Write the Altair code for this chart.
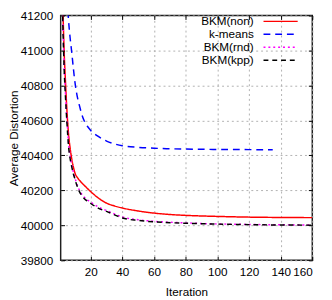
import altair as alt
import pandas as pd

series_names = ["BKM(non)", "k-means", "BKM(rnd)", "BKM(kpp)"]
series_colors = ["#ff0000", "#0000ff", "#ff00ff", "#000000"]
series_dashes = [[1, 0], [7, 5], [2, 3], [5, 4]]

non_x = [1, 2, 3, 4, 5, 6, 7, 8, 9, 10, 12, 14, 16, 18, 20, 25, 30, 35, 40, 50, 60, 70, 80, 100, 120, 140, 160]
non_y = [42200, 41450, 41050, 40830, 40650, 40520, 40440, 40380, 40335, 40300, 40268, 40246, 40228, 40210,
         40193, 40155, 40127, 40111, 40099, 40082, 40070, 40062, 40057, 40051, 40047, 40045, 40044]

km_x = [1, 2, 3, 4, 5, 6, 7, 8, 9, 10, 11, 12, 13, 14, 16, 18, 20, 25, 30, 35, 40, 50, 60, 70, 80, 100, 120, 135]
km_y = [43500, 42600, 42000, 41600, 41320, 41170, 41070, 40990, 40900, 40820, 40760, 40715, 40680, 40645,
        40595, 40565, 40543, 40507, 40482, 40466, 40455, 40446, 40441, 40438, 40436, 40434, 40433, 40432]

rnd_x = [1, 2, 3, 4, 5, 6, 7, 8, 9, 10, 11, 12, 13, 14, 16, 18, 20, 25, 30, 35, 40, 50, 60, 80, 100, 120, 140, 160]
rnd_y = [42350, 41380, 40970, 40760, 40600, 40470, 40395, 40345, 40305, 40272, 40243, 40218, 40198, 40182,
         40160, 40145, 40133, 40104, 40085, 40065, 40048, 40032, 40023, 40014, 40008, 40005, 40003, 40002]

kpp_x = [1, 2, 3, 4, 5, 6, 7, 8, 9, 10, 11, 12, 13, 14, 16, 18, 20, 25, 30, 35, 40, 50, 60, 80, 100, 120, 140, 160]
kpp_y = [42300, 41350, 40950, 40740, 40580, 40450, 40380, 40335, 40295, 40265, 40235, 40210, 40190, 40175,
         40152, 40138, 40125, 40097, 40080, 40060, 40042, 40028, 40020, 40012, 40007, 40004, 40002, 40001]

x_ticks = [20, 40, 60, 80, 100, 120, 140, 160]
y_ticks = [39800, 40000, 40200, 40400, 40600, 40800, 41000, 41200]

rows = []
for name, xs, ys in zip(series_names, [non_x, km_x, rnd_x, kpp_x], [non_y, km_y, rnd_y, kpp_y]):
    for i, (xv, yv) in enumerate(zip(xs, ys)):
        rows.append({"series": name, "iteration": xv, "distortion": yv, "order": i})
df = pd.DataFrame(rows)

W, H = 258, 251
FONT = "Liberation Sans"

xscale = alt.Scale(domain=[1, 160], nice=False, zero=False)
yscale = alt.Scale(domain=[39800, 41200], nice=False, zero=False)

legend = alt.Legend(
    title=None, orient="none", legendX=184, legendY=-1,
    symbolType="M2.83,0H8.67", symbolSize=144, rowPadding=0.3,
    labelAlign="right", labelOffset=0, symbolOffset=0,
    labelFontSize=12, labelFont=FONT, labelColor="black", symbolStrokeWidth=1.5, padding=0,
)

lines = alt.Chart(df).mark_line(clip=True, strokeWidth=1.5, interpolate="monotone").encode(
    x=alt.X("iteration:Q", scale=xscale, axis=alt.Axis(
        values=x_ticks, title="Iteration", ticks=False, domain=False, grid=True, format="d",
        gridDash=[2, 3], gridColor="#b0b0b0", labelPadding=7, titleY=36, titleBaseline="alphabetic",
        labelFontSize=12, titleFontSize=12, labelFont=FONT, titleFont=FONT,
        titleFontWeight="normal", labelColor="black", titleColor="black")),
    y=alt.Y("distortion:Q", scale=yscale, axis=alt.Axis(
        values=y_ticks, title="Average Distortion", ticks=False, domain=False, grid=True, format="d",
        gridDash=[2, 3], gridColor="#b0b0b0", labelPadding=8, titleX=-44, titleBaseline="alphabetic",
        labelFontSize=12, titleFontSize=12, labelFont=FONT, titleFont=FONT,
        titleFontWeight="normal", labelColor="black", titleColor="black")),
    color=alt.Color("series:N", scale=alt.Scale(domain=series_names, range=series_colors), legend=legend),
    strokeDash=alt.StrokeDash("series:N", scale=alt.Scale(domain=series_names, range=series_dashes), legend=legend),
    order="order:Q",
)


def tick_layer(x_orient, y_orient):
    return alt.Chart(df).mark_point(opacity=0).encode(
        x=alt.X("iteration:Q", scale=xscale, axis=alt.Axis(
            values=x_ticks, orient=x_orient, offset=-H, labels=False, grid=False, domain=False,
            tickSize=4, tickColor="black", title=None, zindex=2)),
        y=alt.Y("distortion:Q", scale=yscale, axis=alt.Axis(
            values=y_ticks, orient=y_orient, offset=-W, labels=False, grid=False, domain=False,
            tickSize=4, tickColor="black", title=None, zindex=2)),
    )


chart = alt.layer(lines, tick_layer("top", "right"), tick_layer("bottom", "left")).resolve_axis(
    x="independent", y="independent"
).properties(
    width=W, height=H,
    autosize=alt.AutoSizeParams(type="none"),
    padding={"left": 54, "top": 4, "right": 12, "bottom": 37},
).configure_view(stroke="#202020", strokeWidth=1.5)

chart.save("out.html", embed_options={"renderer": "svg", "actions": False})
